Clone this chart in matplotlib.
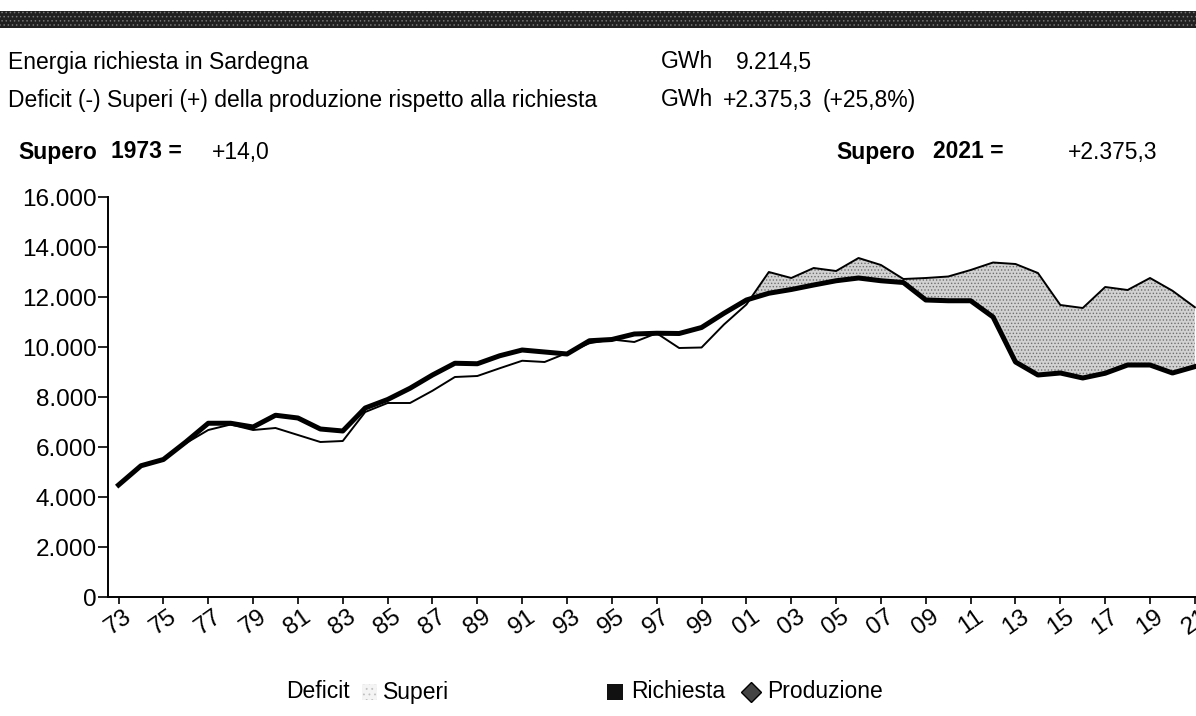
import matplotlib
matplotlib.use("Agg")
import matplotlib.pyplot as plt
from matplotlib.patches import Rectangle
from matplotlib.lines import Line2D
import numpy as np

plt.rcParams['font.family'] = ['Liberation Sans', 'DejaVu Sans']
plt.rcParams['hatch.linewidth'] = 0.6

years = list(range(1973, 2022))
richiesta = [4480, 5250, 5500, 6200, 6950, 6950, 6800, 7270, 7160, 6720,
             6640, 7560, 7900, 8350, 8880, 9350, 9330, 9650, 9880, 9800,
             9720, 10250, 10300, 10520, 10550, 10540, 10780, 11350, 11880, 12150,
             12300, 12480, 12650, 12760, 12650, 12580, 11880, 11850, 11850, 11200,
             9400, 8880, 8960, 8760, 8950, 9280, 9280, 8960, 9214.5]
produzione = [4494, 5250, 5520, 6150, 6680, 6900, 6680, 6760, 6480, 6200,
              6240, 7400, 7760, 7760, 8250, 8800, 8840, 9150, 9450, 9400,
              9760, 10150, 10300, 10200, 10550, 9960, 9980, 10900, 11700, 13000,
              12760, 13160, 13040, 13560, 13280, 12720, 12760, 12820, 13080, 13380,
              13320, 12960, 11680, 11560, 12400, 12280, 12760, 12250, 11589.8]
tick_years = list(range(1973, 2022, 2))
tick_labels = [f"{y % 100:02d}" for y in tick_years]
y_ticks = [0, 2000, 4000, 6000, 8000, 10000, 12000, 14000, 16000]
y_labels = ["0", "2.000", "4.000", "6.000", "8.000", "10.000", "12.000", "14.000", "16.000"]

W, H = 1196, 716
fig = plt.figure(figsize=(W / 100, H / 100), dpi=100)
FS = 16.5
TFS = 17.5


def px(x, y):
    return x / W, 1 - y / H


ax = fig.add_axes([108 / W, 1 - 597 / H, (W - 108) / W, 400 / H])
yr = np.array(years, dtype=float)
ri = np.array(richiesta)
pr = np.array(produzione)

ax.fill_between(yr, ri, pr, where=pr >= ri, interpolate=True,
                facecolor='#d2d2d2', edgecolor='#707070', hatch='.....',
                linewidth=0, zorder=1)
ax.plot(yr, pr, color='black', lw=1.4, zorder=2)
ax.plot(yr, ri, color='black', lw=3.6, zorder=3, solid_joinstyle='round')

ax.set_xlim(1972.53, 2021.05)
ax.set_ylim(0, 16000)
ax.set_yticks(y_ticks)
ax.set_yticklabels(y_labels, fontsize=TFS)
ax.set_xticks(tick_years)
ax.set_xticklabels(tick_labels, fontsize=TFS, rotation=35, ha='center', va='top')
ax.tick_params(axis='y', direction='out', length=7, width=1.2, pad=1)
ax.tick_params(axis='x', direction='out', length=5, width=1.2, pad=1)
for s in ['top', 'right']:
    ax.spines[s].set_visible(False)
ax.spines['left'].set_linewidth(1.4)
ax.spines['bottom'].set_linewidth(1.4)

# header bar
fig.patches.append(Rectangle(px(0, 28), 1, 17 / H, transform=fig.transFigure,
                             facecolor='#202020', edgecolor='#777777',
                             hatch='....', linewidth=0))

# texts
fig.text(*px(8, 62), "Energia richiesta in Sardegna", fontsize=FS, va='center')
fig.text(*px(8, 100), "Deficit (-) Superi (+) della produzione rispetto alla richiesta",
         fontsize=FS, va='center')
fig.text(*px(661, 62), "GWh", fontsize=FS, va='center')
fig.text(*px(661, 100), "GWh", fontsize=FS, va='center')
fig.text(*px(812, 62), "9.214,5", fontsize=FS, va='center', ha='right')
fig.text(*px(812, 100), "+2.375,3", fontsize=FS, va='center', ha='right')
fig.text(*px(823, 100), "(+25,8%)", fontsize=FS, va='center')

fig.text(*px(18, 152), "Supero", fontsize=FS, va='center', fontweight='bold')
fig.text(*px(111, 152), "1973 =", fontsize=FS, va='center', fontweight='bold')
fig.text(*px(212, 152), "+14,0", fontsize=FS, va='center')
fig.text(*px(836, 152), "Supero", fontsize=FS, va='center', fontweight='bold')
fig.text(*px(933, 152), "2021 =", fontsize=FS, va='center', fontweight='bold')
fig.text(*px(1068, 152), "+2.375,3", fontsize=FS, va='center')

# legend
fig.text(*px(286, 692), "Deficit", fontsize=FS, va='center')
fig.patches.append(Rectangle(px(362, 700), 15 / W, 16 / H, transform=fig.transFigure,
                             facecolor='#f4f4f4', edgecolor='#c0c0c0', hatch='...',
                             linewidth=0))
fig.text(*px(383, 692), "Superi", fontsize=FS, va='center')
fig.patches.append(Rectangle(px(607, 700), 16 / W, 16 / H, transform=fig.transFigure,
                             facecolor='#111111', edgecolor='#111111', linewidth=0))
fig.text(*px(631, 692), "Richiesta", fontsize=FS, va='center')
fig.lines.append(Line2D([751 / W], [1 - 692 / H], transform=fig.transFigure,
                        marker='D', markersize=10, markerfacecolor='#444444',
                        markeredgecolor='black', linestyle='none'))
fig.text(*px(767, 692), "Produzione", fontsize=FS, va='center')

fig.savefig("out.png", dpi=100)
